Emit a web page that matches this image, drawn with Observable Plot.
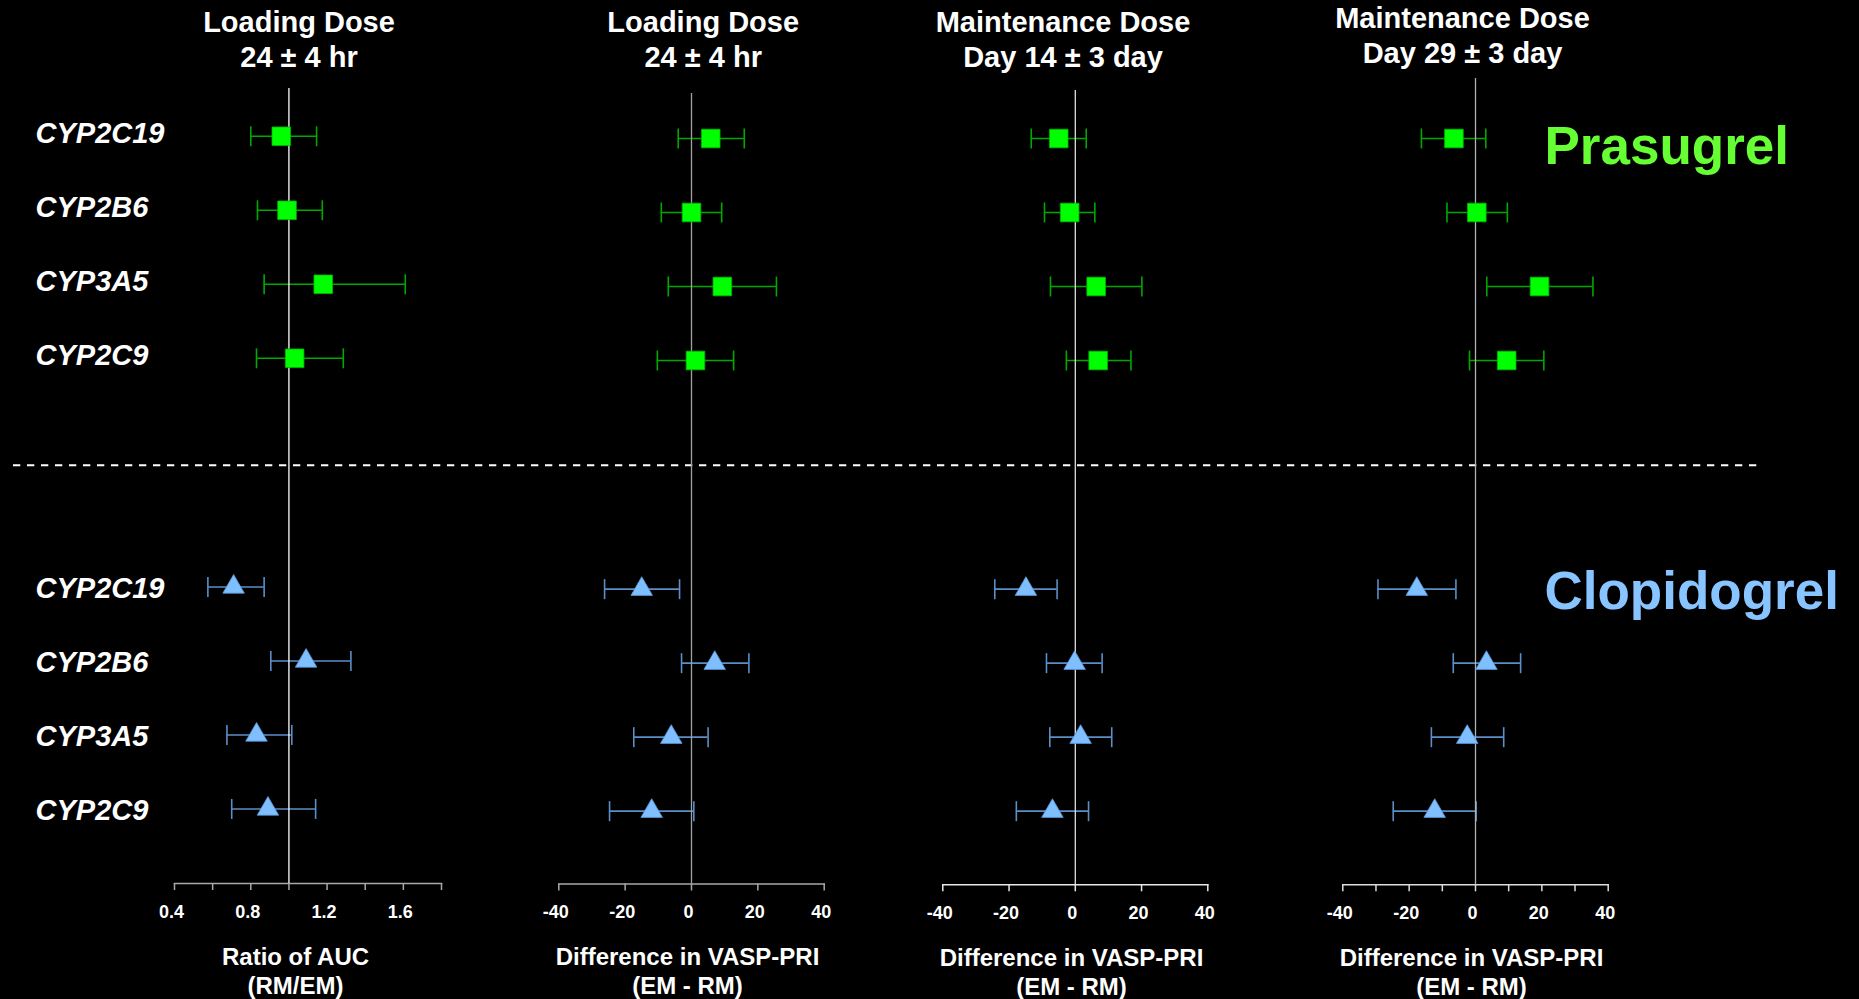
<!DOCTYPE html>
<html>
<head>
<meta charset="utf-8">
<script src="https://cdn.jsdelivr.net/npm/d3@7"></script>
<script src="https://cdn.jsdelivr.net/npm/@observablehq/plot@0.6"></script>
<style>
  html, body { margin: 0; padding: 0; background: #000; }
  #chart { position: relative; width: 1859px; height: 999px; background: #000; overflow: hidden; }
  #chart svg { position: absolute; top: 0; }
</style>
</head>
<body>
<div id="chart"></div>
<script>
// ---------------- data ----------------
const genes = ["CYP2C19", "CYP2B6", "CYP3A5", "CYP2C9"];
const drugs = ["Prasugrel", "Clopidogrel"];

const panelTitles = [
  "Loading Dose\n24 ± 4 hr",
  "Loading Dose\n24 ± 4 hr",
  "Maintenance Dose\nDay 14 ± 3 day",
  "Maintenance Dose\nDay 29 ± 3 day"
];
const axisLabels = [
  "Ratio of AUC\n(RM/EM)",
  "Difference in VASP-PRI\n(EM - RM)",
  "Difference in VASP-PRI\n(EM - RM)",
  "Difference in VASP-PRI\n(EM - RM)"
];
const referenceValues = [1, 0, 0, 0];
const xDomains = [[0.4, 1.8], [-40, 40], [-40, 40], [-40, 40]];
const tickValues = [
  [0.4, 0.6, 0.8, 1.0, 1.2, 1.4, 1.6, 1.8],
  [-40, -20, 0, 20, 40],
  [-40, -20, 0, 20, 40],
  [-40, -30, -20, -10, 0, 10, 20, 30, 40]
];
const tickLabels = [
  ["0.4", "", "0.8", "", "1.2", "", "1.6", ""],
  ["-40", "-20", "0", "20", "40"],
  ["-40", "-20", "0", "20", "40"],
  ["-40", "", "-20", "", "0", "", "20", "", "40"]
];

// per panel, per gene (CYP2C19, CYP2B6, CYP3A5, CYP2C9)
const prasugrelEst = [[0.96, 0.99, 1.18, 1.03], [5.8, 0.0, 9.3, 1.2], [-5.0, -1.7, 6.3, 6.9], [-6.5, 0.4, 19.3, 9.4]];
const prasugrelLo  = [[0.80, 0.835, 0.87, 0.83], [-4.0, -9.1, -7.0, -10.3], [-13.3, -9.3, -7.5, -2.7], [-16.3, -8.6, 3.4, -1.8]];
const prasugrelHi  = [[1.145, 1.175, 1.61, 1.285], [15.9, 9.1, 25.6, 12.7], [3.3, 5.9, 20.1, 16.8], [3.1, 9.6, 35.4, 20.6]];

const clopidogrelEst = [[0.71, 1.09, 0.83, 0.89], [-15.0, 7.0, -6.1, -12.0], [-14.9, -0.2, 1.6, -6.9], [-17.7, 3.3, -2.5, -12.3]];
const clopidogrelLo  = [[0.575, 0.905, 0.675, 0.70], [-26.2, -3.0, -17.4, -24.7], [-24.3, -8.7, -7.7, -17.8], [-29.4, -6.7, -13.3, -24.8]];
const clopidogrelHi  = [[0.87, 1.325, 1.015, 1.14], [-3.6, 17.3, 5.0, 0.7], [-5.5, 8.1, 11.0, 4.0], [-5.9, 13.6, 8.5, 0.2]];

// ---------------- layout & style ----------------
const FONT = "'Liberation Sans', Arial, Helvetica, sans-serif";
const W = 1859, H = 999;
const rowTop = 137.2, rowStep = 74;
const groupOffset = [0, 6.09];          // row offset of each drug group
const separatorRow = 4.426;
const yDomain = [0, 9.1];
const yRange = [rowTop, rowTop + 9.1 * rowStep];

const style = {
  Prasugrel:   {label: "#66ff33", whisker: "#00a800", fill: "#00ff00", markStroke: "#00b400", symbol: "square",   r: 10.5, labelDy: 9, geneDy: -3.5},
  Clopidogrel: {label: "#88c4ff", whisker: "#5a8fc8", fill: "#80bfff", markStroke: "#5c97d6", symbol: "triangle", r: 8,    labelDy: 4, geneDy: 0}
};

const panels = [
  {left: 0,    width: 470, x0: 174,   x1: 441,    top: 88, bottom: 883,   titleY: 38, titleDx: -9,  labelDx: -12.5, yShift: -1.4, zero: "#ffffff", axis: "#a8a8a8"},
  {left: 470,  width: 430, x0: 558.3, x1: 823.7,  top: 93, bottom: 883.5, titleY: 38, titleDx: 11.7, labelDx: -4,  yShift: 0.8,  zero: "#a0a0a0", axis: "#a8a8a8"},
  {left: 900,  width: 400, x0: 942.3, x1: 1207.3, top: 90, bottom: 884.3, titleY: 38, titleDx: -12.3, labelDx: -3.8, yShift: 0.8, zero: "#e0e0e0", axis: "#e8e8e8"},
  {left: 1300, width: 340, x0: 1342.3, x1: 1607.7, top: 78, bottom: 884.3, titleY: 34, titleDx: -13, labelDx: -4,  yShift: 0.8,  zero: "#b0b0b0", axis: "#dddddd"}
];

// vertical cap symbol for the error bars
const capSymbol = {
  draw(context, size) {
    const h = Math.sqrt(size) / 2;
    context.moveTo(0, -h);
    context.lineTo(0, h);
  }
};
const capR = Math.sqrt(400 / Math.PI); // 20px tall cap

function rowsFor(p) {
  const out = [];
  drugs.forEach((drug, d) => {
    const est = d === 0 ? prasugrelEst : clopidogrelEst;
    const lo = d === 0 ? prasugrelLo : clopidogrelLo;
    const hi = d === 0 ? prasugrelHi : clopidogrelHi;
    genes.forEach((gene, i) => {
      out.push({drug, gene, row: groupOffset[d] + i, est: est[p][i], lo: lo[p][i], hi: hi[p][i]});
    });
  });
  return out;
}

const chart = document.getElementById("chart");

// ---------------- base layer: gene labels, separator, drug labels ----------------
const geneRows = drugs.flatMap((drug, d) => genes.map((gene, i) => ({drug, gene, row: groupOffset[d] + i})));
const drugRows = drugs.map((drug, d) => ({drug, row: groupOffset[d]}));

const base = Plot.plot({
  width: W, height: H,
  marginLeft: 13, marginRight: 101, marginTop: 0, marginBottom: 0,
  style: {background: "#000", color: "white", fontFamily: FONT},
  y: {domain: yDomain, range: yRange, axis: null},
  marks: [
    Plot.ruleY([separatorRow], {stroke: "white", strokeWidth: 2, strokeDasharray: "7.3,6.7"}),
    ...drugs.map(drug => Plot.text(geneRows.filter(r => r.drug === drug), {
      y: "row", text: "gene", frameAnchor: "left", textAnchor: "start", lineAnchor: "middle",
      dx: 22, dy: style[drug].geneDy,
      fontSize: 29, fontWeight: "bold", fontStyle: "italic", fill: "white"
    })),
    ...drugs.map(drug => Plot.text(drugRows.filter(r => r.drug === drug), {
      y: "row", text: "drug", frameAnchor: "right", textAnchor: "start", lineAnchor: "middle",
      dx: -214, dy: style[drug].labelDy,
      fontSize: 53, fontWeight: "bold", fill: style[drug].label
    }))
  ]
});
base.style.left = "0px";
chart.appendChild(base);

// ---------------- panels ----------------
panels.forEach((L, p) => {
  const data = rowsFor(p);
  const labelMap = new Map(tickValues[p].map((v, i) => [v, tickLabels[p][i]]));
  const labeled = tickValues[p].filter(v => labelMap.get(v) !== "");
  const marks = [
    Plot.frame({anchor: "bottom", stroke: L.axis, strokeWidth: 1.5}),
    Plot.axisX({ticks: tickValues[p], tickSize: 7, tickFormat: () => "", stroke: L.axis, strokeWidth: 1.5, label: null}),
    Plot.axisX({ticks: labeled, tickSize: 0, tickPadding: 21.5, tickFormat: d => labelMap.get(d),
      color: "white", dx: -3, label: null, fontSize: 18, fontWeight: "bold", fontFamily: FONT})
  ];
  drugs.forEach(drug => {
    const s = style[drug];
    const rows = data.filter(r => r.drug === drug);
    marks.push(
      Plot.ruleY(rows, {y: "row", x1: "lo", x2: "hi", stroke: s.whisker, strokeWidth: 1.6}),
      Plot.dot(rows, {x: "lo", y: "row", symbol: capSymbol, r: capR, stroke: s.whisker, strokeWidth: 1.6, fill: "none"}),
      Plot.dot(rows, {x: "hi", y: "row", symbol: capSymbol, r: capR, stroke: s.whisker, strokeWidth: 1.6, fill: "none"})
    );
  });
  marks.push(Plot.ruleX([referenceValues[p]], {stroke: L.zero, strokeWidth: 1.3}));
  drugs.forEach(drug => {
    const s = style[drug];
    const rows = data.filter(r => r.drug === drug);
    marks.push(Plot.dot(rows, {x: "est", y: "row", symbol: s.symbol, r: s.r, fill: s.fill, stroke: s.markStroke, strokeWidth: 0.8}));
  });
  marks.push(
    Plot.text([panelTitles[p]], {frameAnchor: "top", lineAnchor: "middle", dy: L.titleY - L.top, dx: L.titleDx,
      fontSize: 29, fontWeight: "bold", lineHeight: 1.214, fill: "white"}),
    Plot.text([axisLabels[p]], {frameAnchor: "bottom", lineAnchor: "middle", dy: 86.5, dx: L.labelDx,
      fontSize: 24, fontWeight: "bold", lineHeight: 1.21, fill: "white"})
  );

  const svg = Plot.plot({
    width: L.width, height: H,
    marginLeft: L.x0 - L.left,
    marginRight: L.left + L.width - L.x1,
    marginTop: L.top,
    marginBottom: H - L.bottom,
    style: {background: "transparent", color: "white", fontFamily: FONT, fontSize: "18px", fontWeight: "bold", overflow: "visible"},
    x: {domain: xDomains[p]},
    y: {domain: yDomain, range: [yRange[0] + L.yShift, yRange[1] + L.yShift], axis: null},
    marks
  });
  svg.style.left = L.left + "px";
  chart.appendChild(svg);
});
</script>
</body>
</html>
